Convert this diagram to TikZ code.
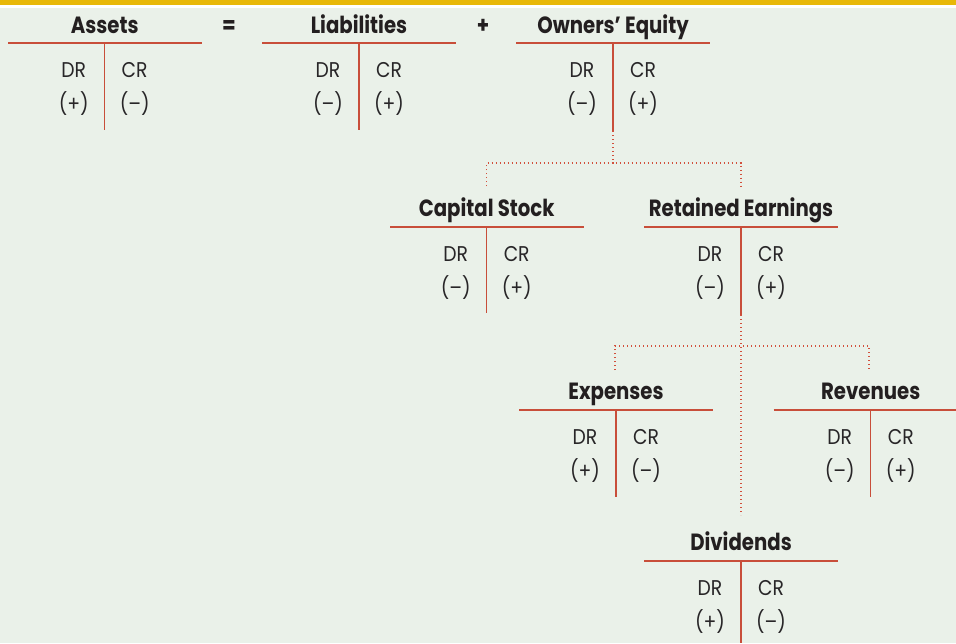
\documentclass[tikz,border=0pt]{standalone}
\usepackage{fontspec}
\setmainfont{Poppins}[FakeStretch=0.88]
\newfontfamily\headfont{Poppins}[FakeStretch=0.84]

\tikzset{every picture/.style={line width=0.75pt}}
\tikzset{
	tline/.style={draw={rgb, 255:red, 200; green, 78; blue, 58}, line width=1pt},
	dotline/.style={draw={rgb, 255:red, 210; green, 80; blue, 60}, line width=1.1pt, dash pattern=on 1.1pt off 1.9pt},
	acct/.style={anchor=base, inner sep=0.75pt, text={rgb, 255:red, 35; green, 31; blue, 32}, font=\headfont\fontsize{17.6}{20}\selectfont\bfseries},
	entry/.style={anchor=base, inner sep=0.75pt, text={rgb, 255:red, 40; green, 38; blue, 40}, font=\fontsize{16}{19}\selectfont}}

\begin{document}
\begin{tikzpicture}[x=0.75pt,y=0.75pt,yscale=-1,xscale=1]
\useasboundingbox (0,0) rectangle (956,643);

%Shape: Rectangle
\fill [color={rgb, 255:red, 234; green, 241; blue, 233 }] (0,0) rectangle (956,643);
%Shape: Rectangle
\fill [color={rgb, 255:red, 232; green, 184; blue, 8 }] (0,0) rectangle (956,5);
%Shape: Rectangle
\fill [white] (0,5) rectangle (956,7.7);

% Assets
\coordinate (asL) at (8,43); \coordinate (asR) at (202,43);
\coordinate (asT) at (104.7,43); \coordinate (asB) at (104.7,130);
\draw [tline] (asL) -- (asR);
\draw [tline] (asT) -- (asB);
% Text Node
\draw (104.7,33) node [acct] (asN) {Assets};
% Text Node
\draw (73.7,77) node [entry] (asDR) {DR};
% Text Node
\draw (134.7,77) node [entry] (asCR) {CR};
% Text Node
\draw (73.7,111) node [entry] (asDS) {(+)};
% Text Node
\draw (134.7,111) node [entry] (asCS) {(–)};

% Text Node
\draw (229,33) node [acct] (eq) {=};

% Liabilities
\coordinate (liL) at (262,43); \coordinate (liR) at (456,43);
\coordinate (liT) at (359,43); \coordinate (liB) at (359,130);
\draw [tline] (liL) -- (liR);
\draw [tline] (liT) -- (liB);
% Text Node
\draw (359,33) node [acct] (liN) {Liabilities};
% Text Node
\draw (328,77) node [entry] (liDR) {DR};
% Text Node
\draw (389,77) node [entry] (liCR) {CR};
% Text Node
\draw (328,111) node [entry] (liDS) {(–)};
% Text Node
\draw (389,111) node [entry] (liCS) {(+)};

% Text Node
\draw (483,33) node [acct] (plus) {+};

% Owners' Equity
\coordinate (oeL) at (516,43); \coordinate (oeR) at (710,43);
\coordinate (oeT) at (613,43); \coordinate (oeB) at (613,131);
\draw [tline] (oeL) -- (oeR);
\draw [tline] (oeT) -- (oeB);
% Text Node
\draw (613,33) node [acct] (oeN) {Owners’ Equity};
% Text Node
\draw (582,77) node [entry] (oeDR) {DR};
% Text Node
\draw (643,77) node [entry] (oeCR) {CR};
% Text Node
\draw (582,111) node [entry] (oeDS) {(–)};
% Text Node
\draw (643,111) node [entry] (oeCS) {(+)};

% Capital Stock
\coordinate (csL) at (390,227); \coordinate (csR) at (584,227);
\coordinate (csT) at (486.7,227); \coordinate (csB) at (486.7,313);
\draw [tline] (csL) -- (csR);
\draw [tline] (csT) -- (csB);
% Text Node
\draw (486.7,216.5) node [acct] (csN) {Capital Stock};
% Text Node
\draw (455.7,261) node [entry] (csDR) {DR};
% Text Node
\draw (516.7,261) node [entry] (csCR) {CR};
% Text Node
\draw (455.7,295) node [entry] (csDS) {(–)};
% Text Node
\draw (516.7,295) node [entry] (csCS) {(+)};

% Retained Earnings
\coordinate (reL) at (644,227); \coordinate (reR) at (838,227);
\coordinate (reT) at (741,227); \coordinate (reB) at (741,315);
\draw [tline] (reL) -- (reR);
\draw [tline] (reT) -- (reB);
% Text Node
\draw (741,216.5) node [acct] (reN) {Retained Earnings};
% Text Node
\draw (710,261) node [entry] (reDR) {DR};
% Text Node
\draw (771,261) node [entry] (reCR) {CR};
% Text Node
\draw (710,295) node [entry] (reDS) {(–)};
% Text Node
\draw (771,295) node [entry] (reCS) {(+)};

% Expenses
\coordinate (exL) at (519,410); \coordinate (exR) at (713,410);
\coordinate (exT) at (616,410); \coordinate (exB) at (616,497);
\draw [tline] (exL) -- (exR);
\draw [tline] (exT) -- (exB);
% Text Node
\draw (616,399.5) node [acct] (exN) {Expenses};
% Text Node
\draw (585,444) node [entry] (exDR) {DR};
% Text Node
\draw (646,444) node [entry] (exCR) {CR};
% Text Node
\draw (585,478) node [entry] (exDS) {(+)};
% Text Node
\draw (646,478) node [entry] (exCS) {(–)};

% Revenues
\coordinate (rvL) at (773.7,410); \coordinate (rvR) at (956,410);
\coordinate (rvT) at (870.7,410); \coordinate (rvB) at (870.7,497);
\draw [tline] (rvL) -- (rvR);
\draw [tline] (rvT) -- (rvB);
% Text Node
\draw (870.7,399.5) node [acct] (rvN) {Revenues};
% Text Node
\draw (839.7,444) node [entry] (rvDR) {DR};
% Text Node
\draw (900.7,444) node [entry] (rvCR) {CR};
% Text Node
\draw (839.7,478) node [entry] (rvDS) {(–)};
% Text Node
\draw (900.7,478) node [entry] (rvCS) {(+)};

% Dividends
\coordinate (dvL) at (644,561); \coordinate (dvR) at (838,561);
\coordinate (dvT) at (741,561); \coordinate (dvB) at (741,643);
\draw [tline] (dvL) -- (dvR);
\draw [tline] (dvT) -- (dvB);
% Text Node
\draw (741,550.5) node [acct] (dvN) {Dividends};
% Text Node
\draw (710,595) node [entry] (dvDR) {DR};
% Text Node
\draw (771,595) node [entry] (dvCR) {CR};
% Text Node
\draw (710,629) node [entry] (dvDS) {(+)};
% Text Node
\draw (771,629) node [entry] (dvCS) {(–)};

%Dotted Lines
\coordinate (oeJ) at (613,163);
\coordinate (csTop) at (486.7,186); \coordinate (reTop) at (741,186);
\draw [dotline] (oeB) -- (oeJ);
\draw [dotline] (csTop) |- (oeJ) -| (reTop);
%Dotted Lines
\coordinate (reJ) at (741,346);
\coordinate (exTop) at (615,370); \coordinate (rvTop) at (869,370);
\coordinate (dvTop) at (741,515);
\draw [dotline] (reB) -- (dvTop);
\draw [dotline] (exTop) |- (reJ) -| (rvTop);

\end{tikzpicture}
\end{document}
